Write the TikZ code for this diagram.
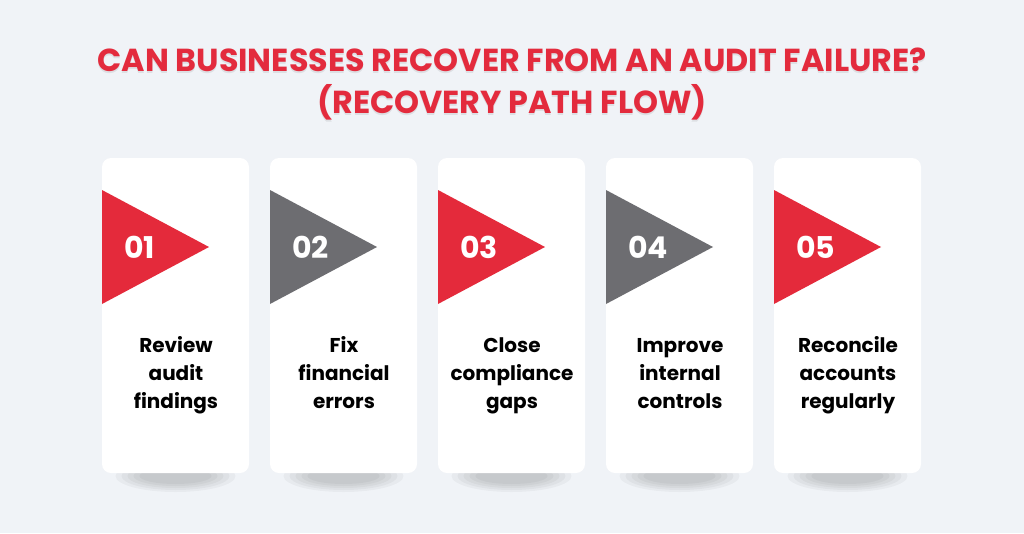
\documentclass[tikz,border=0pt]{standalone}
\usepackage{fontspec}
\setmainfont{Poppins}
\definecolor{bg}{HTML}{F0F3F7}
\definecolor{red}{HTML}{E42A3B}
\definecolor{gray}{HTML}{6D6D71}
\definecolor{ttl}{HTML}{E32B3D}
\tikzset{
  card/.style={fill=white, rounded corners=9pt, draw=none},
  numtxt/.style={font=\fontsize{30}{30}\selectfont\bfseries, text=white, anchor=west, inner sep=0pt},
  steptxt/.style={font=\fontsize{20}{28}\selectfont\bfseries, text=black, align=center, anchor=center, inner sep=0pt},
  ttltxt/.style={font=\fontsize{31.8}{42}\selectfont\bfseries, text=ttl, align=center},
  ttlshadow/.style={ttltxt, text=black, text opacity=0.08}
}
\begin{document}
\begin{tikzpicture}[x=1pt,y=-1pt]
\fill[bg] (0,0) rectangle (1024,533);
\useasboundingbox (0,0) rectangle (1024,533);
\node[ttlshadow] (titleshadow) at (512,86) {CAN BUSINESSES RECOVER FROM AN AUDIT FAILURE?\\(RECOVERY PATH FLOW)};
\node[ttltxt] (title) at (512,84) {CAN BUSINESSES RECOVER FROM AN AUDIT FAILURE?\\(RECOVERY PATH FLOW)};
\foreach \i/\c/\n/\t in {0/red/01/{Review\\audit\\findings},1/gray/02/{Fix\\financial\\errors},2/red/03/{Close\\compliance\\gaps},3/gray/04/{Improve\\internal\\controls},4/red/05/{Reconcile\\accounts\\regularly}}{
  \pgfmathsetmacro{\xl}{102+168*\i}
  \foreach \w/\h in {60/16,54/14,48/12,42/10,36/8}{
    \fill[black, opacity=0.035] (\xl+73.5,476) ellipse (\w pt and \h pt);
  }
  \fill[card] (\xl,158) rectangle (\xl+147,473);
  \node[inner sep=0pt] (card\i) at (\xl+73.5,315.5) {};
  \fill[\c] (\xl,190) -- (\xl+107,247) -- (\xl,304) -- cycle;
  \node[numtxt] (num\i) at (\xl+22,247) {\n};
  \node[steptxt] (txt\i) at (\xl+74,375) {\strut\t\strut};
}
\end{tikzpicture}
\end{document}
